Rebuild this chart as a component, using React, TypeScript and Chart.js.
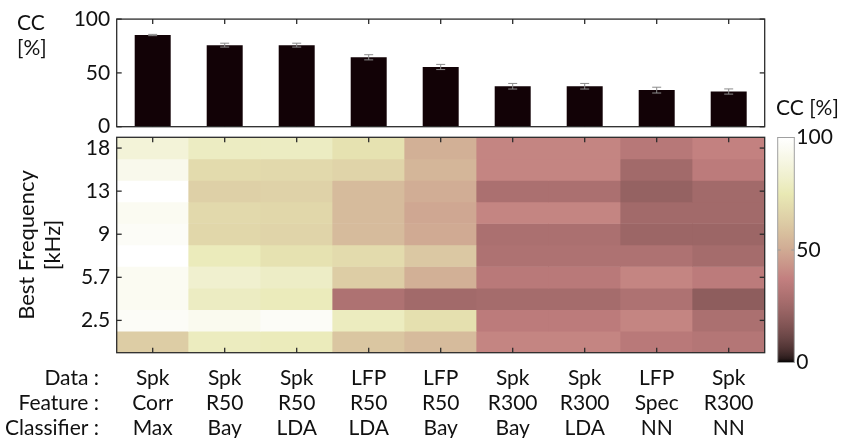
import React, { useEffect, useRef } from 'react';
import { Chart, registerables } from 'chart.js';

Chart.register(...registerables);

const FONT = "Lato, 'Open Sans', 'DejaVu Sans', sans-serif";

// ---------- data ----------
const categories: string[][] = [
  ['Spk', 'Corr', 'Max'],
  ['Spk', 'R50', 'Bay'],
  ['Spk', 'R50', 'LDA'],
  ['LFP', 'R50', 'LDA'],
  ['LFP', 'R50', 'Bay'],
  ['Spk', 'R300', 'Bay'],
  ['Spk', 'R300', 'LDA'],
  ['LFP', 'Spec', 'NN'],
  ['Spk', 'R300', 'NN'],
];
const rowTitles = ['Data :', 'Feature :', 'Classifier :'];

const ccMean = [85.2, 75.8, 75.8, 64.5, 55.5, 37.6, 37.6, 34.0, 32.7];
const ccErr = [0.6, 1.8, 1.8, 2.4, 2.4, 2.6, 2.6, 2.7, 2.4];
const barTicks = [0, 50, 100];

// heat map rows, top (highest best frequency) to bottom, CC in %
const heatRow1 = [86, 79, 79, 72, 52, 39, 39, 33, 38];
const heatRow2 = [93, 69, 68, 66, 54, 39, 39, 26, 35];
const heatRow3 = [100, 64, 65, 56, 51, 29, 29, 22, 26];
const heatRow4 = [95, 68, 67, 56, 49, 39, 39, 26, 26];
const heatRow5 = [97, 67, 66, 56, 50, 29, 29, 24, 24];
const heatRow6 = [100, 77, 72, 69, 61, 30, 30, 30, 27];
const heatRow7 = [95, 83, 80, 63, 52, 34, 34, 39, 35];
const heatRow8 = [95, 79, 77, 30, 26, 27, 27, 30, 20];
const heatRow9 = [97, 94, 97, 78, 71, 35, 35, 39, 29];
const heatRow10 = [63, 78, 77, 60, 56, 39, 39, 34, 32];
const heatRows = [heatRow1, heatRow2, heatRow3, heatRow4, heatRow5, heatRow6, heatRow7, heatRow8, heatRow9, heatRow10];

const freqTickLabels = ['18', '13', '9', '5.7', '2.5'];
const freqTickRows = [0, 2, 4, 6, 8];
const colorbarTicks = [0, 50, 100];

// ---------- helpers ----------
const clamp = (v: number) => Math.max(0, Math.min(1, v));
function pink(t: number): string {
  t = clamp(t);
  const hr = clamp(t / 0.375);
  const hg = clamp((t - 0.375) / 0.375);
  const hb = clamp((t - 0.75) / 0.25);
  const r = Math.sqrt((2 * t + hr) / 3);
  const g = Math.sqrt((2 * t + hg) / 3);
  const b = Math.sqrt((2 * t + hb) / 3);
  return `rgb(${Math.round(r * 255)},${Math.round(g * 255)},${Math.round(b * 255)})`;
}

const W = 843;
const H = 438;
const PLOT_L = 116.7;
const PLOT_R = 764.7;
const TOP_T = 16.7;
const TOP_B = 126.7;
const HM_T = 137.3;
const HM_B = 352.7;
const CB_L = 777.7;
const CB_R = 794.3;
const CB_T = 137.5;
const CB_B = 362.5;
const LABEL_LH = 25;
const LABEL_PAD = 13;
const FRAME = '#2b2b2b';

function drawFrame(ctx: CanvasRenderingContext2D, a: any, color: string, lw: number) {
  ctx.save();
  ctx.strokeStyle = color;
  ctx.lineWidth = lw;
  ctx.strokeRect(a.left, a.top, a.right - a.left, a.bottom - a.top);
  ctx.restore();
}

function line(ctx: CanvasRenderingContext2D, x1: number, y1: number, x2: number, y2: number) {
  ctx.beginPath();
  ctx.moveTo(x1, y1);
  ctx.lineTo(x2, y2);
  ctx.stroke();
}

export default function App() {
  const topRef = useRef<HTMLCanvasElement>(null);
  const hmRef = useRef<HTMLCanvasElement>(null);
  const cbRef = useRef<HTMLCanvasElement>(null);

  useEffect(() => {
    Chart.defaults.font.family = FONT;
    Chart.defaults.color = '#111';

    // ---------- top bar chart ----------
    const topPlugin = {
      id: 'topDeco',
      beforeDatasetsDraw(chart: any) {
        const { ctx, chartArea: a, scales } = chart;
        ctx.save();
        ctx.strokeStyle = FRAME;
        ctx.lineWidth = 1.3;
        categories.forEach((_, i) => {
          const x = scales.x.getPixelForValue(i);
          line(ctx, x, a.top, x, a.top + 5);
          line(ctx, x, a.bottom, x, a.bottom - 5);
        });
        barTicks.forEach((v) => {
          const y = scales.y.getPixelForValue(v);
          line(ctx, a.left, y, a.left + 5, y);
          line(ctx, a.right, y, a.right - 5, y);
        });
        ctx.restore();
      },
      afterDatasetsDraw(chart: any) {
        const { ctx, chartArea: a, scales } = chart;
        ctx.save();
        ctx.strokeStyle = '#8c8c8c';
        ctx.lineWidth = 1;
        ccMean.forEach((m, i) => {
          const x = scales.x.getPixelForValue(i);
          const yt = scales.y.getPixelForValue(m + ccErr[i]);
          const yb = scales.y.getPixelForValue(m - ccErr[i]);
          line(ctx, x, yt, x, yb);
          line(ctx, x - 4.5, yt, x + 4.5, yt);
          line(ctx, x - 4.5, yb, x + 4.5, yb);
        });
        ctx.restore();
        drawFrame(ctx, a, FRAME, 1.3);
        ctx.save();
        ctx.fillStyle = '#111';
        ctx.font = `21px ${FONT}`;
        ctx.textAlign = 'left';
        ctx.textBaseline = 'middle';
        ctx.fillText('CC', 17, 23);
        ctx.fillText('[%]', 17, 48);
        ctx.restore();
      },
    };

    const topChart = new Chart(topRef.current!, {
      type: 'bar',
      data: {
        labels: categories,
        datasets: [
          {
            data: ccMean,
            backgroundColor: '#120206',
            borderWidth: 0,
            barPercentage: 0.5,
            categoryPercentage: 1,
          },
        ],
      },
      options: {
        responsive: false,
        animation: false,
        layout: { padding: { left: 0, top: TOP_T, right: W - PLOT_R, bottom: H - TOP_B } },
        plugins: { legend: { display: false }, tooltip: { enabled: false }, title: { display: false } },
        scales: {
          x: {
            grid: { display: false, drawTicks: false },
            border: { display: false },
            ticks: { display: false },
            afterFit: (s: any) => {
              s.height = 0;
            },
          },
          y: {
            min: 0,
            max: 100,
            grid: { display: false, drawTicks: false },
            border: { display: false },
            ticks: { stepSize: 50, font: { size: 21 }, color: '#111', padding: 6.5 },
            afterFit: (s: any) => {
              s.width = PLOT_L;
            },
          },
        },
      },
      plugins: [topPlugin],
    } as any);

    // ---------- heat map ----------
    const hmPlugin = {
      id: 'hmDeco',
      afterDatasetsDraw(chart: any) {
        const { ctx, chartArea: a, scales } = chart;
        ctx.save();
        ctx.strokeStyle = FRAME;
        ctx.lineWidth = 1.3;
        categories.forEach((_, i) => {
          const x = scales.x.getPixelForValue(i);
          line(ctx, x, a.top, x, a.top + 5);
          line(ctx, x, a.bottom, x, a.bottom - 5);
        });
        freqTickRows.forEach((r) => {
          const y = scales.y.getPixelForValue(r + 0.5);
          line(ctx, a.left, y, a.left + 5, y);
          line(ctx, a.right, y, a.right - 5, y);
        });
        ctx.restore();
        drawFrame(ctx, a, FRAME, 1.3);
        ctx.save();
        ctx.fillStyle = '#111';
        ctx.font = `21px ${FONT}`;
        ctx.textAlign = 'right';
        ctx.textBaseline = 'middle';
        rowTitles.forEach((t, i) => {
          ctx.fillText(t, 99, scales.x.top + LABEL_PAD + LABEL_LH / 2 + i * LABEL_LH);
        });
        ctx.restore();
      },
    };

    const hmChart = new Chart(hmRef.current!, {
      type: 'bar',
      data: {
        labels: categories,
        datasets: heatRows.map((row, r) => ({
          data: row.map(() => [r, r + 1]),
          backgroundColor: row.map((v) => pink(v / 100)),
          borderWidth: 0,
          barPercentage: 1,
          categoryPercentage: 1,
          grouped: false,
        })),
      },
      options: {
        responsive: false,
        animation: false,
        layout: { padding: { left: 0, top: HM_T, right: W - PLOT_R, bottom: 0 } },
        plugins: { legend: { display: false }, tooltip: { enabled: false }, title: { display: false } },
        scales: {
          x: {
            grid: { display: false, drawTicks: false },
            border: { display: false },
            ticks: {
              autoSkip: false,
              maxRotation: 0,
              minRotation: 0,
              padding: LABEL_PAD,
              color: '#111',
              font: { size: 21, lineHeight: `${LABEL_LH}px` },
            },
            afterFit: (s: any) => {
              s.height = H - HM_B;
            },
          },
          y: {
            min: 0,
            max: heatRows.length,
            reverse: true,
            grid: { display: false, drawTicks: false },
            border: { display: false },
            afterBuildTicks: (s: any) => {
              s.ticks = freqTickRows.map((r) => ({ value: r + 0.5 }));
            },
            ticks: {
              autoSkip: false,
              padding: 6.5,
              color: '#111',
              font: { size: 21 },
              callback: (_v: any, i: number) => freqTickLabels[i],
            },
            title: {
              display: true,
              text: ['Best Frequency', '[kHz]'],
              color: '#111',
              font: { size: 22, lineHeight: '26px' },
              padding: { top: 14, bottom: 0 },
            },
            afterFit: (s: any) => {
              s.width = PLOT_L;
            },
          },
        },
      },
      plugins: [hmPlugin],
    } as any);

    // ---------- colour bar ----------
    const cbPlugin = {
      id: 'cbDeco',
      afterDatasetsDraw(chart: any) {
        const { ctx, chartArea: a, scales } = chart;
        ctx.save();
        ctx.strokeStyle = '#9a9a9a';
        ctx.lineWidth = 1;
        colorbarTicks.forEach((v) => {
          const y = scales.y.getPixelForValue(v);
          line(ctx, a.left, y, a.left + 3, y);
          line(ctx, a.right, y, a.right - 3, y);
        });
        ctx.restore();
        drawFrame(ctx, a, '#a0a0a0', 1);
        ctx.save();
        ctx.fillStyle = '#111';
        ctx.font = `21px ${FONT}`;
        ctx.textAlign = 'left';
        ctx.textBaseline = 'middle';
        ctx.fillText('CC [%]', 776, 108);
        ctx.restore();
      },
    };

    const cbChart = new Chart(cbRef.current!, {
      type: 'bar',
      data: {
        labels: [''],
        datasets: [
          {
            data: [[colorbarTicks[0], colorbarTicks[colorbarTicks.length - 1]]],
            backgroundColor: (c: any) => {
              const area = c.chart.chartArea;
              if (!area) return '#888';
              const g = c.chart.ctx.createLinearGradient(0, area.bottom, 0, area.top);
              for (let k = 0; k <= 64; k++) g.addColorStop(k / 64, pink(k / 64));
              return g;
            },
            borderWidth: 0,
            barPercentage: 1,
            categoryPercentage: 1,
          },
        ],
      },
      options: {
        responsive: false,
        animation: false,
        layout: { padding: { left: CB_L, top: CB_T, right: 0, bottom: H - CB_B } },
        plugins: { legend: { display: false }, tooltip: { enabled: false }, title: { display: false } },
        scales: {
          x: {
            grid: { display: false, drawTicks: false },
            border: { display: false },
            ticks: { display: false },
            afterFit: (s: any) => {
              s.height = 0;
            },
          },
          y: {
            position: 'right',
            min: 0,
            max: 100,
            grid: { display: false, drawTicks: false },
            border: { display: false },
            ticks: { stepSize: 50, font: { size: 21 }, color: '#111', padding: 2 },
            afterFit: (s: any) => {
              s.width = W - CB_R;
            },
          },
        },
      },
      plugins: [cbPlugin],
    } as any);

    return () => {
      topChart.destroy();
      hmChart.destroy();
      cbChart.destroy();
    };
  }, []);

  const cs: React.CSSProperties = { position: 'absolute', left: 0, top: 0 };
  return (
    <div style={{ position: 'absolute', left: 0, top: 0, width: W, height: H, background: '#fff' }}>
      <canvas ref={topRef} width={W} height={H} style={cs} />
      <canvas ref={hmRef} width={W} height={H} style={cs} />
      <canvas ref={cbRef} width={W} height={H} style={cs} />
    </div>
  );
}
